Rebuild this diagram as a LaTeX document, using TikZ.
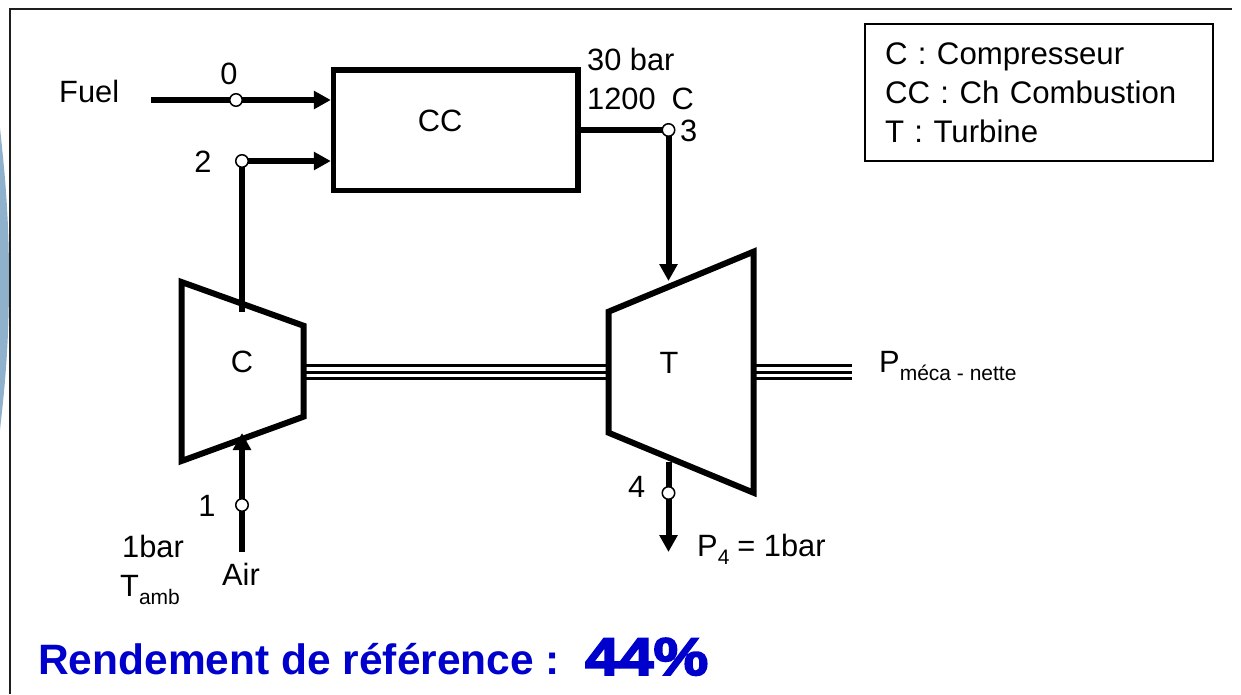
\documentclass[tikz,border=0pt]{standalone}
\usepackage{fontspec}
\usepackage{xcolor}
\usetikzlibrary{arrows.meta,backgrounds}
\setmainfont{Liberation Sans}
\newfontfamily\heavyfont[FakeBold=3.5,FakeStretch=1.16]{Liberation Sans Bold}
\definecolor{myblue}{RGB}{0,0,204}
\definecolor{mystrip}{RGB}{143,177,204}
\definecolor{myframe}{RGB}{30,30,30}
\newcommand{\lowtxt}[1]{{\fontsize{21}{21}\selectfont\raisebox{-8pt}{#1}}}
\tikzset{
    x=1pt,y=-1pt,
    lbl/.style={
        anchor=base west,
        inner sep=0pt,
        font=\fontsize{30.8}{38.5}\selectfont
    },
    lblc/.style={lbl,anchor=base},
    title/.style={
        anchor=base west,
        inner sep=0pt,
        text=myblue,
        font=\fontsize{42.5}{42.5}\selectfont\bfseries
    },
    bloc/.style={
        rectangle,
        draw=black,
        fill=white,
        line width=5.5pt,
        inner sep=0pt,
        minimum width=244.5pt,
        minimum height=120.5pt
    },
    legendbox/.style={
        rectangle,
        draw=black,
        line width=2pt,
        inner sep=0pt,
        minimum width=348pt,
        minimum height=137pt,
        text width=308pt,
        align=left,
        font=\fontsize{31.2}{39}\selectfont
    },
    pt/.style={
        circle,
        draw=black,
        fill=white,
        line width=1.5pt,
        inner sep=0pt,
        minimum size=12.5pt
    },
    machine/.style={draw=black,line width=6pt,miter limit=10},
    pipe/.style={line width=6pt,black},
    arr/.style={pipe,-{Triangle[length=17pt,width=17.5pt]}},
    shaft/.style={line width=3pt,black},
    frameline/.style={line width=2pt,myframe}
}
\begin{document}
\begin{tikzpicture}
\useasboundingbox (0,0) rectangle (1241,694);
\fill[mystrip] (0,128) .. controls (5,175) and (9,215) .. (9,280) .. controls (9,345) and (5,385) .. (0,430) -- cycle;

\coordinate (frameBL) at (10,694);
\coordinate (frameTL) at (10,9);
\coordinate (frameTR) at (1232,9);
\draw[frameline] (frameBL) -- (frameTL) -- (frameTR);

\node[bloc] (cc) at (455.8,130.2) {};
\node[lblc] (cctxt) at (440,131) {CC};

\coordinate (c1) at (181.5,282);
\coordinate (c2) at (303.5,325.7);
\coordinate (c3) at (303.5,416.7);
\coordinate (c4) at (181.5,461);
\draw[machine] (c1) -- (c2) -- (c3) -- (c4) -- cycle;
\node[lblc] (ctxt) at (242,372) {C};

\coordinate (t1) at (608.5,311.7);
\coordinate (t2) at (753.5,251.7);
\coordinate (t3) at (753.5,492.7);
\coordinate (t4) at (608.5,432.7);
\draw[machine] (t1) -- (t2) -- (t3) -- (t4) -- cycle;
\node[lblc] (ttxt) at (669,373) {T};

\node[pt] (p0) at (236,100) {};
\node[pt] (p1) at (242,505) {};
\node[pt] (p2) at (242,161) {};
\node[pt] (p3) at (668.5,130) {};
\node[pt] (p4) at (668.5,493) {};

\coordinate (fuelin) at (151,100);
\coordinate (airin) at (242,552);
\coordinate (cin) at (242,433);
\coordinate (cout) at (242,311.5);
\coordinate (tin) at (668.5,281);
\coordinate (tout) at (668.5,462);
\coordinate (exhaust) at (668.5,552);

\begin{scope}[on background layer]
\draw[pipe] (fuelin) -- (p0.center);
\draw[arr] (p0.center) -- (cc.west |- p0);
\draw[pipe] (cout) -- (p2.center);
\draw[arr] (p2.center) -- (cc.west |- p2);
\draw[pipe] (cc.east |- p3) -- (p3.center);
\draw[arr] (p3.center) -- (tin);
\draw[pipe] (airin) -- (p1.center);
\draw[arr] (p1.center) -- (cin);
\draw[pipe] (tout) -- (p4.center);
\draw[arr] (p4.center) -- (exhaust);
\end{scope}

\coordinate (s1) at (306,372);
\coordinate (s2) at (606,372);
\coordinate (s3) at (756,372);
\coordinate (s4) at (852,372);
\foreach \dy in {6.3,0,-6.3} {
    \draw[shaft] ([yshift=\dy pt]s1) -- ([yshift=\dy pt]s2);
    \draw[shaft] ([yshift=\dy pt]s3) -- ([yshift=\dy pt]s4);
}

\node[lbl] (fuel) at (59,102.5) {Fuel};
\node[lblc] (n0) at (229,84.5) {0};
\node[lblc] (n1) at (207,516) {1};
\node[lblc] (n2) at (203,172) {2};
\node[lbl] (n3) at (680,141) {3};
\node[lbl] (n4) at (628,497.7) {4};
\node[lbl] (hp1) at (587,70.7) {30 bar};
\node[lbl] (hp2) at (587,109) {1200\hspace{16pt}C};
\node[lbl] (lp1) at (122,557.7) {1bar};
\node[lbl] (lp2) at (120,596.7) {T\lowtxt{amb}};
\node[lbl] (air) at (222,585.7) {Air};
\node[lbl] (p4txt) at (697,556) {P\lowtxt{4}\hspace{8pt}= 1bar};
\node[lbl] (power) at (879,372) {P\lowtxt{méca - nette}};

\node[legendbox] (legend) at (1039,92.5) {C : Compresseur\\CC : Ch Combustion\\T : Turbine};

\node[title] (rend) at (38,674.5) {Rendement de référence :};
\node[title,font=\heavyfont\fontsize{53}{53}\selectfont] (val) at (585,675) {44\%};
\end{tikzpicture}
\end{document}
